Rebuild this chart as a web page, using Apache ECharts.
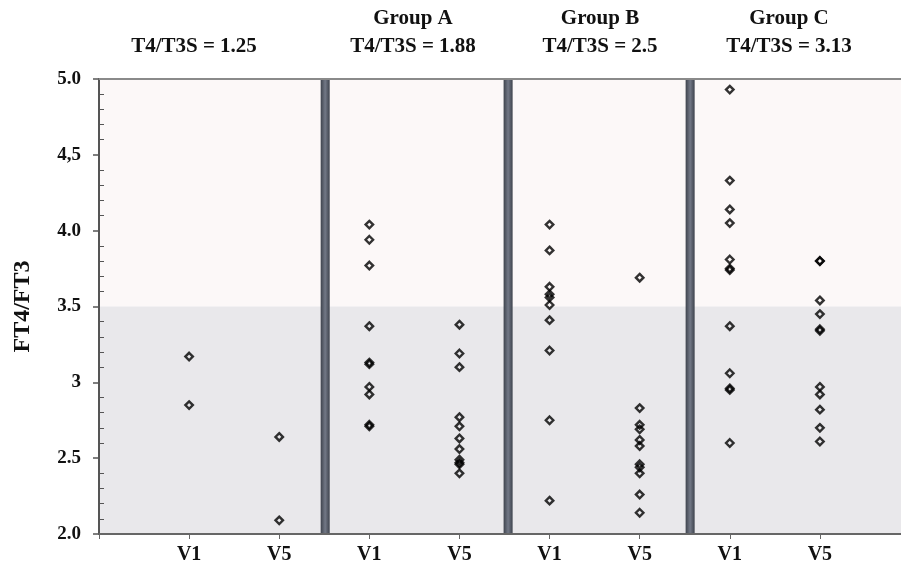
<!DOCTYPE html>
<html><head><meta charset="utf-8">
<script src="https://cdn.jsdelivr.net/npm/echarts@6/dist/echarts.min.js"></script>
<style>html,body{margin:0;padding:0;background:#fff}#c{width:901px;height:566px}</style>
</head><body><div id="c"></div>
<script>
// ---- data ----
const categories = ['', 'V1', 'V5', 'V1', 'V5', 'V1', 'V5', 'V1', 'V5'];
const yTickLabels = { '2': '2.0', '2.5': '2.5', '3': '3', '3.5': '3.5', '4': '4.0', '4.5': '4,5', '5': '5.0' };
const headerLines1 = ['', 'Group A', 'Group B', 'Group C'];
const headerLines2 = ['T4/T3S = 1.25', 'T4/T3S = 1.88', 'T4/T3S = 2.5', 'T4/T3S = 3.13'];

const ref_V1 = [3.17, 2.85];
const ref_V5 = [2.64, 2.09];
const groupA_V1 = [4.04, 3.94, 3.77, 3.37, 3.13, 3.12, 2.97, 2.92, 2.72, 2.71];
const groupA_V5 = [3.38, 3.19, 3.10, 2.77, 2.71, 2.63, 2.56, 2.49, 2.47, 2.46, 2.40];
const groupB_V1 = [4.04, 3.87, 3.63, 3.58, 3.56, 3.51, 3.41, 3.21, 2.75, 2.22];
const groupB_V5 = [3.69, 2.83, 2.72, 2.69, 2.62, 2.58, 2.46, 2.44, 2.40, 2.26, 2.14];
const groupC_V1 = [4.93, 4.33, 4.14, 4.05, 3.81, 3.75, 3.74, 3.37, 3.06, 2.96, 2.95, 2.60];
const groupC_V5 = [3.80, 3.80, 3.54, 3.45, 3.35, 3.34, 2.97, 2.92, 2.82, 2.70, 2.61];

const dividers = [2.51, 4.54, 6.56];
const referenceRange = [2, 3.5];
const upperRange = [3.5, 5];

// ---- chart ----
const serif = "'Liberation Serif', 'DejaVu Serif', serif";
const columns = [ref_V1, ref_V5, groupA_V1, groupA_V5, groupB_V1, groupB_V5, groupC_V1, groupC_V5];
const headerX = [194, 413, 600, 789];
const dividerHalf = 0.05;

const scatterSeries = columns.map((vals, i) => ({
  type: 'scatter',
  name: categories[i + 1] + '_' + i,
  data: vals.map(v => [i + 1, v]),
  symbol: 'diamond',
  symbolSize: 7.5,
  itemStyle: { color: 'rgba(0,0,0,0)', borderColor: '#000', borderWidth: 2.4 },
  z: 5
}));

const bgSeries = {
  type: 'scatter',
  data: [],
  silent: true,
  yAxisIndex: 1,
  z: 1,
  markArea: {
    silent: true,
    data: [
      [{ yAxis: upperRange[0], itemStyle: { color: '#fcf8f8' } }, { yAxis: upperRange[1] }],
      [{ yAxis: referenceRange[0], itemStyle: { color: '#e9e8eb' } }, { yAxis: referenceRange[1] }]
    ]
  }
};

const dividerSeries = {
  type: 'scatter',
  data: [],
  silent: true,
  z: 3,
  markArea: {
    silent: true,
    itemStyle: {
      color: {
        type: 'linear', x: 0, y: 0, x2: 1, y2: 0,
        colorStops: [
          { offset: 0, color: '#3e434d' },
          { offset: 0.5, color: '#727886' },
          { offset: 1, color: '#3e434d' }
        ]
      }
    },
    data: dividers.map(d => [{ xAxis: d - dividerHalf, yAxis: 2 }, { xAxis: d + dividerHalf, yAxis: 5 }])
  }
};

const graphics = [];
headerLines2.forEach((t, i) => {
  if (headerLines1[i]) {
    graphics.push({ type: 'text', x: headerX[i], y: 8, style: { text: headerLines1[i], font: 'bold 21px ' + serif, fill: '#111', align: 'center', verticalAlign: 'top' } });
  }
  graphics.push({ type: 'text', x: headerX[i], y: 36, style: { text: t, font: 'bold 21px ' + serif, fill: '#111', align: 'center', verticalAlign: 'top' } });
});

const chart = echarts.init(document.getElementById('c'), null, { renderer: 'canvas' });
chart.setOption({
  animation: false,
  backgroundColor: '#ffffff',
  grid: { left: 99, right: 0, top: 79, bottom: 32, containLabel: false, outerBoundsMode: 'none' },
  graphic: graphics,
  xAxis: [{
    type: 'value', min: 0, max: 8.9, interval: 1, z: 10,
    axisLine: { show: true, lineStyle: { color: '#666', width: 2 } },
    axisTick: { show: true, length: 5, lineStyle: { color: '#666', width: 1 } },
    axisLabel: {
      margin: 11, color: '#111', fontFamily: serif, fontWeight: 'bold', fontSize: 20,
      showMinLabel: true, showMaxLabel: false,
      formatter: v => (Number.isInteger(v) ? (categories[v] || '') : '')
    },
    splitLine: { show: false }
  }, {
    type: 'value', position: 'top', min: 0, max: 8.9, z: 10,
    axisLine: { show: true, onZero: false, lineStyle: { color: '#8a8a8a', width: 2 } },
    axisTick: { show: false }, axisLabel: { show: false }, splitLine: { show: false }
  }],
  yAxis: [{
    type: 'value', min: 2, max: 5, interval: 0.5, z: 10,
    name: 'FT4/FT3', nameLocation: 'middle', nameGap: 64,
    nameTextStyle: { color: '#111', fontFamily: serif, fontWeight: 'bold', fontSize: 24 },
    axisLine: { show: true, lineStyle: { color: '#555', width: 2 } },
    axisTick: { show: true, length: 6, lineStyle: { color: '#555', width: 1.5 } },
    axisLabel: {
      margin: 18, color: '#111', fontFamily: serif, fontWeight: 'bold', fontSize: 19,
      formatter: v => yTickLabels[String(v)] || ''
    },
    splitLine: { show: false }
  }, {
    type: 'value', position: 'left', min: 2, max: 5, interval: 0.5, z: 10,
    axisLine: { show: false },
    axisTick: { show: false, inside: true },
    minorTick: { show: true, splitNumber: 5, length: 5, lineStyle: { color: '#555', width: 1 } },
    axisLabel: { show: false },
    splitLine: { show: false }
  }],
  series: [bgSeries, dividerSeries].concat(scatterSeries)
});
</script>
</body></html>
